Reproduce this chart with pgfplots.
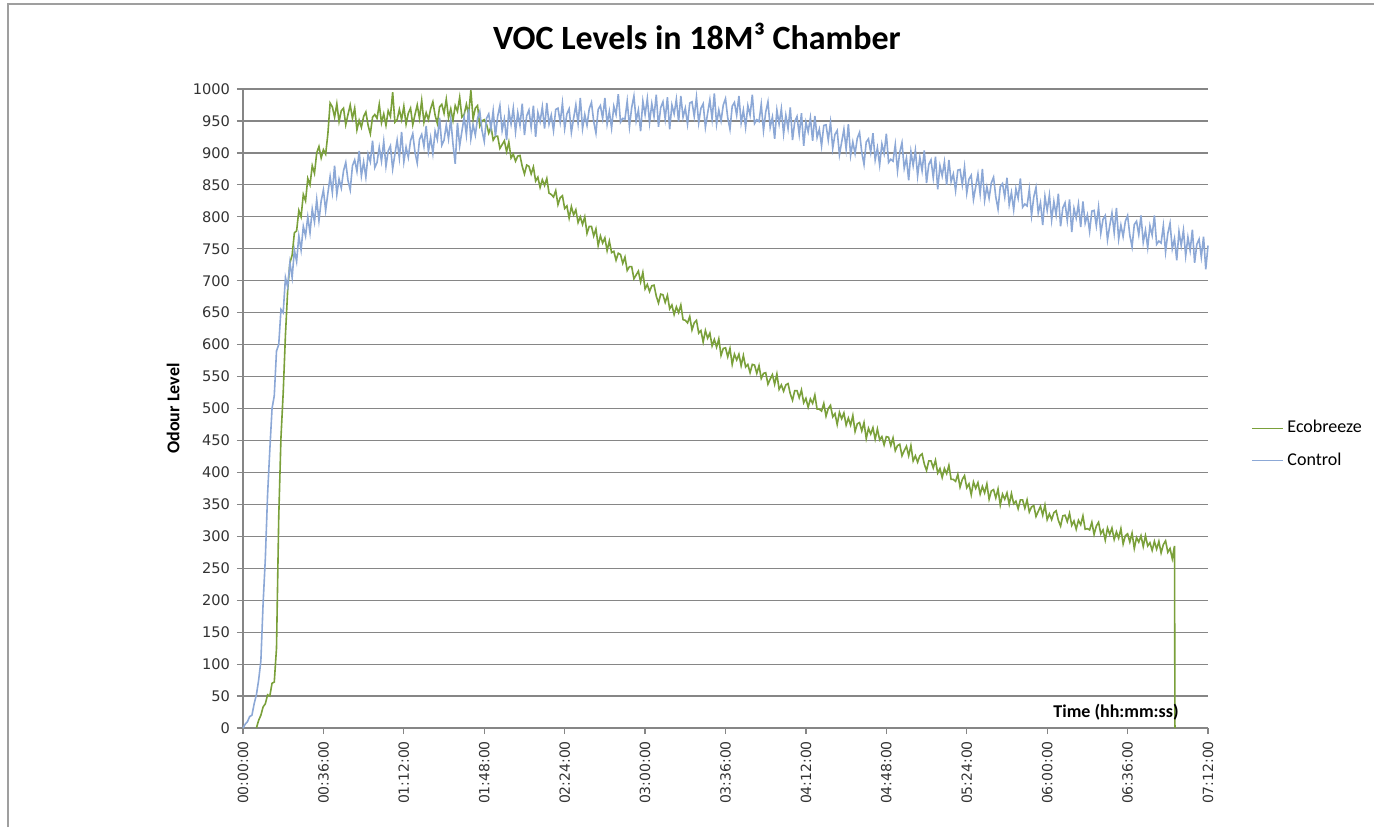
\documentclass[border=0pt]{standalone}
\usepackage{fontspec}
\setmainfont{Carlito}
\newfontfamily\tickfont{DejaVu Sans}
\usepackage{pgfplots}
\pgfplotsset{compat=1.18}
\definecolor{ecogreen}{RGB}{122,160,58}
\definecolor{ctrlblue}{RGB}{140,168,214}
\definecolor{gridgray}{RGB}{134,134,134}
\begin{document}
\begin{tikzpicture}
\begin{axis}[
  scale only axis,
  width=482.5pt, height=319.5pt,
  xmin=0, xmax=432, ymin=0, ymax=1000,
  axis x line*=bottom, axis y line*=left,
  axis line style={gridgray, line width=0.6pt},
  tick style={gridgray, line width=0.6pt},
  tick align=outside,
  major tick length=3pt,
  ytick={0,50,...,1000},
  xtick={0,36,...,432},
  xticklabels={00:00:00,00:36:00,01:12:00,01:48:00,02:24:00,03:00:00,03:36:00,04:12:00,04:48:00,05:24:00,06:00:00,06:36:00,07:12:00},
  xticklabel style={font=\tickfont\fontsize{7}{8}\selectfont, rotate=90, anchor=east, text=black!80},
  yticklabel style={font=\tickfont\fontsize{7.3}{8}\selectfont, text=black!80, /pgf/number format/assume math mode=true, /pgf/number format/1000 sep={}},
  ymajorgrids,
  major grid style={gridgray, line width=0.6pt},
  title={VOC Levels in 18M³ Chamber},
  title style={font=\bfseries\fontsize{17}{19}\selectfont, at={(rel axis cs:0.4705,1.0642)}, anchor=center},
  xlabel={Time (hh:mm:ss)},
  xlabel style={font=\bfseries\fontsize{9}{10}\selectfont, at={(rel axis cs:0.970,0.025)}, anchor=east, inner sep=0pt},
  ylabel={Odour Level},
  ylabel style={font=\bfseries\fontsize{9}{10}\selectfont, at={(rel axis cs:-0.0725,0.5)}, anchor=center},
  legend style={draw=none, fill=none, at={(rel axis cs:1.0446,0.444)}, anchor=west, font=\fontsize{9}{10}\selectfont, row sep=4.5pt, inner sep=0pt, nodes={inner sep=2pt}},
  legend cell align=left,
  legend image code/.code={\draw[#1, line width=0.5pt] (0pt,0pt) -- (15.5pt,0pt);},
  clip=false,
]
\addplot[ecogreen, line width=0.8pt] coordinates {
(6,0)(7,12)(8,20)(9,33)(10,38)(11,52)(12,50)(13,70)(14,72)(15,125)(16,330)(17,455)(18,525)(19,615)(20,685)(21,728)(22,740)(23,775)(24,778)(25,810)(26,800)(27,835)(28,825)(29,860)(30,850)(31,880)(32,868)(33,900)(34,910)(35,892)(36,905)(37,898)(38,930)(39,978)
(40,972)(41,956)(42,977)(43,949)(44,966)(45,970)(46,944)(47,960)(48,975)(49,954)(50,970)(51,936)(52,951)(53,940)(54,957)(55,964)(56,943)(57,930)(58,956)(59,960)(60,954)(61,976)(62,947)(63,961)(64,943)(65,966)(66,957)(67,995)(68,948)(69,952)(70,968)(71,952)(72,973)(73,945)(74,962)(75,970)(76,944)(77,960)(78,975)(79,954)(80,982)(81,948)(82,963)(83,952)(84,969)(85,980)(86,959)(87,946)(88,972)(89,976)(90,962)(91,984)(92,955)(93,969)(94,951)(95,974)(96,965)(97,987)(98,956)(99,960)(100,976)(101,960)(102,998)(103,953)(104,970)(105,974)(106,942)(107,950)(108,952)
(109,945)(110,931)(111,941)(112,920)(113,926)(114,926)(115,907)(116,913)(117,919)(118,902)(119,917)(120,892)(121,898)(122,887)(123,895)(124,896)(125,879)(126,867)(127,881)(128,879)(129,867)(130,878)(131,856)(132,862)(133,846)(134,858)(135,849)(136,860)(137,837)(138,835)
(139,831)(140,841)(141,819)(142,830)(143,833)(144,813)(145,817)(146,798)(147,816)(148,803)(149,811)(150,791)(151,800)(152,788)(153,800)(154,774)(155,785)(156,785)(157,770)(158,781)(159,755)(160,770)(161,759)(162,767)(163,747)(164,762)(165,744)(166,746)(167,732)(168,743)
(169,741)(170,727)(171,737)(172,716)(173,722)(174,722)(175,703)(176,709)(177,715)(178,698)(179,713)(180,687)(181,694)(182,683)(183,692)(184,693)(185,676)(186,665)(187,679)(188,678)(189,666)(190,677)(191,656)(192,662)(193,647)(194,659)(195,650)(196,662)(197,639)(198,638)
(199,634)(200,644)(201,623)(202,634)(203,638)(204,618)(205,622)(206,604)(207,622)(208,610)(209,618)(210,598)(211,608)(212,596)(213,609)(214,583)(215,594)(216,595)(217,581)(218,594)(219,569)(220,585)(221,576)(222,585)(223,567)(224,583)(225,565)(226,569)(227,556)(228,569)
(229,568)(230,555)(231,567)(232,547)(233,555)(234,556)(235,538)(236,546)(237,553)(238,538)(239,554)(240,530)(241,537)(242,527)(243,537)(244,539)(245,523)(246,513)(247,528)(248,528)(249,517)(250,529)(251,509)(252,516)(253,502)(254,515)(255,508)(256,521)(257,499)(258,499)
(259,496)(260,508)(261,488)(262,500)(263,505)(264,487)(265,492)(266,475)(267,494)(268,484)(269,493)(270,474)(271,485)(272,474)(273,489)(274,464)(275,476)(276,478)(277,465)(278,478)(279,453)(280,469)(281,460)(282,470)(283,452)(284,468)(285,451)(286,456)(287,443)(288,456)
(289,455)(290,442)(291,454)(292,434)(293,442)(294,444)(295,426)(296,434)(297,441)(298,426)(299,442)(300,418)(301,426)(302,416)(303,426)(304,429)(305,413)(306,403)(307,418)(308,418)(309,407)(310,419)(311,399)(312,406)(313,392)(314,406)(315,398)(316,411)(317,389)(318,389)
(319,386)(320,397)(321,377)(322,389)(323,395)(324,376)(325,382)(326,365)(327,385)(328,375)(329,384)(330,366)(331,378)(332,368)(333,382)(334,358)(335,371)(336,373)(337,360)(338,374)(339,349)(340,366)(341,358)(342,368)(343,350)(344,367)(345,351)(346,355)(347,343)(348,357)
(349,357)(350,344)(351,357)(352,338)(353,346)(354,348)(355,331)(356,339)(357,347)(358,333)(359,349)(360,326)(361,335)(362,326)(363,337)(364,340)(365,325)(366,316)(367,332)(368,333)(369,323)(370,336)(371,317)(372,324)(373,311)(374,325)(375,318)(376,332)(377,311)(378,312)
(379,310)(380,322)(381,303)(382,316)(383,322)(384,304)(385,310)(386,294)(387,313)(388,303)(389,313)(390,295)(391,307)(392,297)(393,312)(394,288)(395,301)(396,304)(397,291)(398,305)(399,281)(400,298)(401,291)(402,301)(403,284)(404,301)(405,285)(406,290)(407,278)(408,292)(409,280)(410,292)(411,274)(412,287)(413,293)(414,275)(415,281)(416,265)(417,285)(417.2,0)
};
\addlegendentry{Ecobreeze}
\addplot[ctrlblue, line width=0.8pt] coordinates {
(0,0)(1,6)(2,10)(3,18)(4,20)(5,38)(6,52)(7,75)(8,105)(9,195)(10,265)(11,365)(12,435)(13,500)(14,520)(15,590)(16,600)(17,655)(18,650)(19,705)(20,690)(21,728)(22,705)(23,748)(24,730)(25,770)(26,748)(27,785)(28,770)(29,800)(30,775)
(31,812)(32,792)(33,827)(34,794)(35,825)(36,842)(37,810)(38,837)(39,863)(40,838)(41,880)(42,835)(43,859)(44,845)(45,872)(46,885)(47,857)(48,842)(49,880)(50,889)(51,871)(52,903)(53,864)(54,886)(55,862)(56,898)(57,886)(58,919)(59,877)(60,885)
(61,909)(62,887)(63,918)(64,879)(65,903)(66,911)(67,875)(68,898)(69,920)(70,892)(71,933)(72,886)(73,909)(74,893)(75,919)(76,930)(77,901)(78,884)(79,921)(80,929)(81,910)(82,942)(83,902)(84,924)(85,899)(86,934)(87,921)(88,955)(89,912)(90,920)
(91,944)(92,922)(93,953)(94,914)(95,883)(96,947)(97,911)(98,934)(99,956)(100,928)(101,969)(102,922)(103,944)(104,928)(105,954)(106,965)(107,935)(108,918)(109,954)(110,961)
(111,938)(112,966)(113,926)(114,957)(115,974)(116,935)(117,953)(118,920)(119,966)(120,945)(121,970)(122,933)(123,963)(124,943)(125,977)(126,928)(127,958)(128,967)(129,940)(130,974)(131,925)(132,963)(133,949)(134,972)(135,938)(136,978)(137,945)(138,959)(139,935)(140,968)
(141,970)(142,948)(143,978)(144,938)(145,961)(146,969)(147,932)(148,954)(149,975)(150,946)(151,986)(152,938)(153,960)(154,943)(155,969)(156,979)(157,949)(158,931)(159,968)(160,974)(161,954)(162,986)(163,945)(164,965)(165,939)(166,973)(167,960)(168,992)(169,948)(170,954)
(171,953)(172,981)(173,941)(174,971)(175,989)(176,950)(177,967)(178,934)(179,981)(180,960)(181,985)(182,947)(183,977)(184,957)(185,991)(186,941)(187,971)(188,980)(189,953)(190,987)(191,937)(192,975)(193,961)(194,984)(195,949)(196,989)(197,956)(198,970)(199,945)(200,978)
(201,980)(202,957)(203,987)(204,947)(205,970)(206,977)(207,940)(208,962)(209,983)(210,953)(211,993)(212,945)(213,967)(214,950)(215,975)(216,985)(217,955)(218,937)(219,973)(220,979)(221,959)(222,989)(223,947)(224,967)(225,940)(226,974)(227,959)(228,991)(229,946)(230,952)
(231,949)(232,976)(233,935)(234,964)(235,980)(236,940)(237,956)(238,922)(239,967)(240,945)(241,969)(242,930)(243,959)(244,938)(245,971)(246,920)(247,949)(248,957)(249,929)(250,962)(251,911)(252,948)(253,933)(254,955)(255,919)(256,958)(257,924)(258,937)(259,911)(260,943)
(261,944)(262,920)(263,948)(264,907)(265,929)(266,935)(267,897)(268,917)(269,937)(270,906)(271,945)(272,896)(273,917)(274,899)(275,923)(276,932)(277,901)(278,882)(279,917)(280,922)(281,901)(282,931)(283,889)(284,908)(285,881)(286,914)(287,899)(288,930)(289,885)(290,890)
(291,887)(292,913)(293,872)(294,901)(295,916)(296,876)(297,892)(298,857)(299,902)(300,880)(301,904)(302,864)(303,893)(304,872)(305,904)(306,853)(307,882)(308,889)(309,861)(310,894)(311,843)(312,880)(313,864)(314,886)(315,850)(316,889)(317,855)(318,867)(319,841)(320,873)
(321,874)(322,850)(323,878)(324,837)(325,859)(326,865)(327,827)(328,847)(329,867)(330,836)(331,875)(332,826)(333,847)(334,829)(335,853)(336,862)(337,831)(338,812)(339,847)(340,852)(341,831)(342,861)(343,819)(344,838)(345,811)(346,844)(347,829)(348,860)(349,815)(350,820)
(351,817)(352,843)(353,802)(354,831)(355,846)(356,806)(357,822)(358,787)(359,832)(360,810)(361,834)(362,795)(363,824)(364,803)(365,836)(366,785)(367,814)(368,822)(369,794)(370,827)(371,776)(372,813)(373,798)(374,820)(375,784)(376,824)(377,790)(378,803)(379,777)(380,809)
(381,810)(382,786)(383,815)(384,774)(385,796)(386,802)(387,764)(388,786)(389,806)(390,775)(391,814)(392,765)(393,787)(394,769)(395,793)(396,802)(397,771)(398,753)(399,788)(400,793)(401,772)(402,802)(403,760)(404,779)(405,752)(406,786)(407,771)(408,802)(409,757)(410,762)
(411,759)(412,786)(413,745)(414,774)(415,790)(416,750)(417,766)(418,732)(419,777)(420,755)(421,779)(422,739)(423,768)(424,747)(425,780)(426,728)(427,757)(428,765)(429,737)(430,769)(431,718)(432,755)
};
\addlegendentry{Control}
\end{axis}
\draw[gray!75, line width=0.9pt] (-117.5pt,-49.5pt) -- (-117.5pt,362pt) -- (565.5pt,362pt);
\pgfresetboundingbox
\useasboundingbox (-121.5pt,-49.5pt) rectangle (565.5pt,364pt);
\end{tikzpicture}
\end{document}
